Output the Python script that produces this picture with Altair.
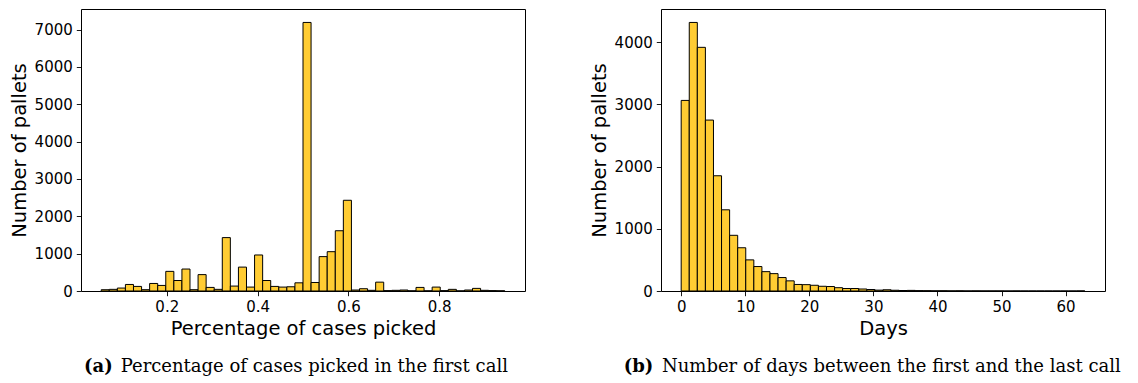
import numpy as np
import pandas as pd
import altair as alt

# ---- Panel (a): percentage of cases picked in the first call (50 bins) ----
pct_range = [0.0556, 0.9444]
pct_counts = [34, 44, 79, 175, 123, 35, 202, 149, 526, 281,
              588, 35, 439, 96, 44, 1430, 132, 640, 105, 965,
              281, 123, 105, 113, 219, 7193, 228, 921, 1053, 1614,
              2430, 26, 61, 18, 237, 10, 18, 26, 5, 96,
              5, 105, 10, 44, 3, 26, 70, 18, 10, 5]
pct_ticks = [0.2, 0.4, 0.6, 0.8]
pct_yticks = [0, 1000, 2000, 3000, 4000, 5000, 6000, 7000]

# ---- Panel (b): days between the first and the last call (50 bins) ----
days_range = [0, 63]
days_counts = [3063, 4316, 3916, 2747, 1852, 1305, 895, 695, 500, 393,
               311, 279, 216, 163, 105, 102, 92, 76, 72, 53,
               40, 40, 32, 24, 14, 20, 12, 8, 10, 6,
               5, 3, 4, 2, 3, 1, 2, 1, 1, 1,
               0, 1, 0, 0, 0, 0, 0, 0, 0, 1]
days_ticks = [0, 10, 20, 30, 40, 50, 60]
days_yticks = [0, 1000, 2000, 3000, 4000]

captions = {
    "a": ("(a)", "Percentage of cases picked in the first call"),
    "b": ("(b)", "Number of days between the first and the last call"),
}

FILL = "#FFCC33"
W, H = 444, 282
TICK_FS = 15
TITLE_FS = 19.5
CAP_FS = 18


def hist_df(rng, counts):
    edges = np.linspace(rng[0], rng[1], len(counts) + 1)
    return pd.DataFrame({"lo": edges[:-1], "hi": edges[1:], "n": counts})


def panel(df, xdom, ydom, xticks, yticks, xfmt, xtitle, cap, cap_x_bold, cap_x_text):
    bars = alt.Chart(df).mark_rect(fill=FILL, stroke="black", strokeWidth=1).encode(
        x=alt.X("lo:Q", scale=alt.Scale(domain=xdom, nice=False, zero=False),
                axis=alt.Axis(values=xticks, format=xfmt, title=xtitle)),
        x2="hi:Q",
        y=alt.Y("n:Q", scale=alt.Scale(domain=ydom, nice=False),
                axis=alt.Axis(values=yticks, format="d", title="Number of pallets")),
        y2=alt.datum(0),
    )
    cap_df = pd.DataFrame({"k": [0]})
    bold = alt.Chart(cap_df).mark_text(
        text=cap[0], font="DejaVu Serif", fontWeight="bold", fontSize=CAP_FS,
        align="left", baseline="alphabetic", color="black"
    ).encode(x=alt.value(cap_x_bold), y=alt.value(H + 80.7))
    rest = alt.Chart(cap_df).mark_text(
        text=cap[1], font="DejaVu Serif", fontSize=CAP_FS,
        align="left", baseline="alphabetic", color="black"
    ).encode(x=alt.value(cap_x_text), y=alt.value(H + 80.7))
    return alt.layer(bars, bold, rest).properties(width=W, height=H)


left = panel(hist_df(pct_range, pct_counts), [0.0111, 0.9889], [0, 7553],
             pct_ticks, pct_yticks, ".1f", "Percentage of cases picked",
             captions["a"], 3, 39.7)
right = panel(hist_df(days_range, days_counts), [-3.15, 66.15], [0, 4532],
              days_ticks, days_yticks, "d", "Days",
              captions["b"], -37.3, 1)

chart = alt.hconcat(left, right, spacing=62).properties(
    padding={"left": 0, "top": 0, "right": 0, "bottom": 0}
).configure(font="DejaVu Sans").configure_view(
    stroke="black", strokeWidth=1
).configure_axis(
    grid=False, domain=False, ticks=True, tickSize=4.7, tickWidth=0.9,
    tickColor="black", labelColor="black", titleColor="black",
    labelFont="DejaVu Sans", titleFont="DejaVu Sans",
    labelFontSize=TICK_FS, titleFontSize=TITLE_FS, titleFontWeight="normal",
    labelPadding=4, titlePadding=5,
)

chart.save("out.html", embed_options={"renderer": "svg", "actions": False})
